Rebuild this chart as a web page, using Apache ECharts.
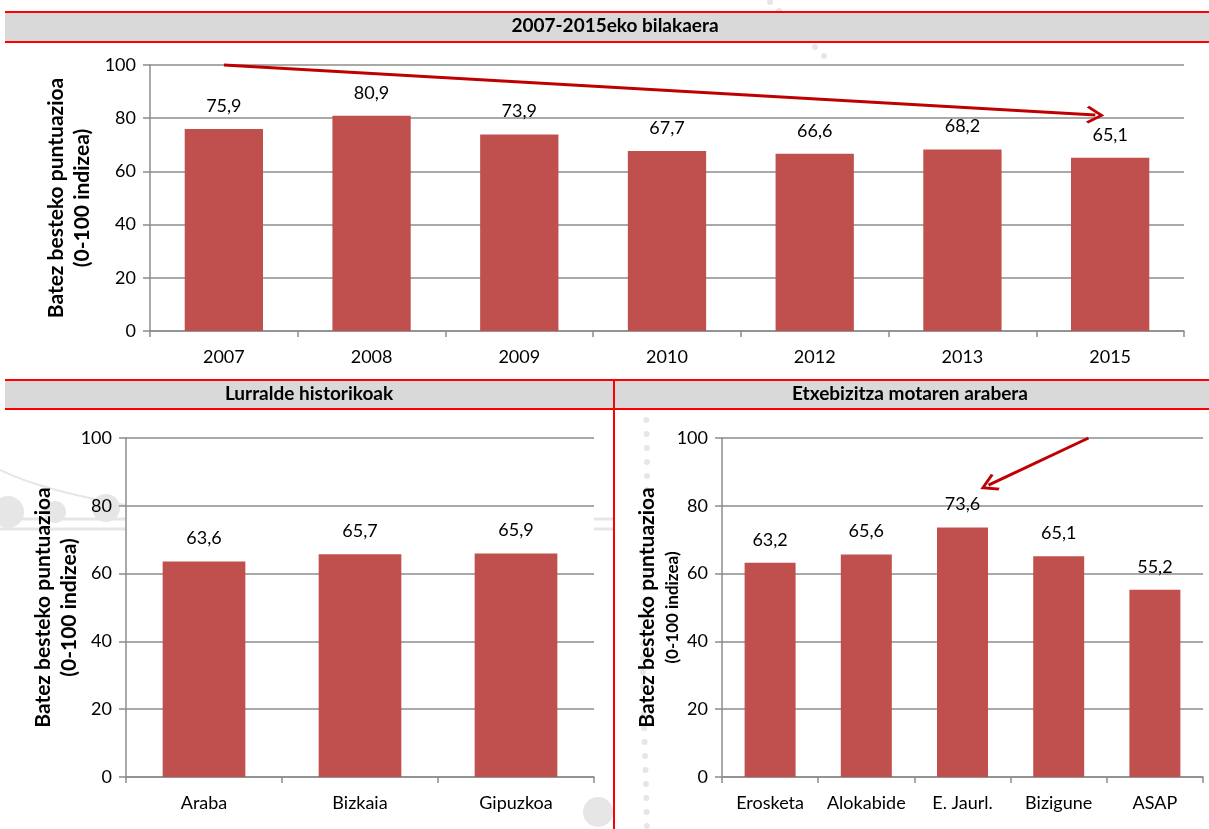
<!DOCTYPE html>
<html>
<head>
<meta charset="utf-8">
<script src="https://cdn.jsdelivr.net/npm/echarts@6/dist/echarts.min.js"></script>
<style>
  html, body { margin: 0; padding: 0; background: #fff; }
  #chart { width: 1209px; height: 829px; }
</style>
</head>
<body>
<div id="chart"></div>
<script>
// Evolution 2007-2015
const years = ['2007', '2008', '2009', '2010', '2012', '2013', '2015'];
const yearScores = [75.9, 80.9, 73.9, 67.7, 66.6, 68.2, 65.1];

// Historical territories
const provinces = ['Araba', 'Bizkaia', 'Gipuzkoa'];
const provinceScores = [63.6, 65.7, 65.9];

// By housing type
const housingTypes = ['Erosketa', 'Alokabide', 'E. Jaurl.', 'Bizigune', 'ASAP'];
const housingScores = [63.2, 65.6, 73.6, 65.1, 55.2];

// Panel titles and axis name
const panelTitles = ['2007-2015eko bilakaera', 'Lurralde historikoak', 'Etxebizitza motaren arabera'];
const yAxisNameLines = ['Batez besteko puntuazioa', '(0-100 indizea)'];
const yMin = 0, yMax = 100, yStep = 20;

// Trend arrows, in [category position, score]
const trendArrowTop = [[0, 100], [5.9, 81.2]];
const trendArrowHousing = [[3.31, 100], [2.27, 86.1]];

const FONT = 'Lato, "Open Sans", sans-serif';
const BAR = '#c0504d';
const AXIS_GREY = '#8c8c8c';
const ARROW = '#c00000';
const FAINT = '#e6e6e6';
const chevron = 'path://M50,0 L100,70 L89,80 L50,25 L11,80 L0,70 Z';

const fmt = v => String(v).replace('.', ',');

function catAxis(grid, cats) {
  return {
    type: 'category', gridIndex: grid, data: cats,
    axisLine: { lineStyle: { color: AXIS_GREY, width: 1.5 } },
    axisTick: { show: true, length: 6, lineStyle: { color: AXIS_GREY, width: 1.5 } },
    axisLabel: { interval: 0, color: '#000', fontFamily: FONT, fontSize: 18, margin: 17 }
  };
}
function valAxis(grid, nameGap, subSize) {
  return {
    type: 'value', gridIndex: grid, min: yMin, max: yMax, interval: yStep,
    name: '{a|' + yAxisNameLines[0] + '}\n{b|' + yAxisNameLines[1] + '}',
    nameLocation: 'middle', nameGap: nameGap, nameRotate: 90, nameMoveOverlap: false,
    nameTextStyle: {
      color: '#000', fontFamily: FONT, fontWeight: 700, fontSize: 21,
      rich: {
        a: { fontFamily: FONT, fontSize: 21, fontWeight: 700, lineHeight: 26, color: '#000' },
        b: { fontFamily: FONT, fontSize: subSize, fontWeight: 700, lineHeight: 26, color: '#000' }
      }
    },
    axisLine: { show: true, onZero: false, lineStyle: { color: AXIS_GREY, width: 1.5 } },
    axisTick: { show: true, length: 7, lineStyle: { color: AXIS_GREY, width: 1.5 } },
    splitLine: { lineStyle: { color: AXIS_GREY, width: 1.5 } },
    axisLabel: { color: '#000', fontFamily: FONT, fontSize: 18, margin: 14 }
  };
}
function hiddenPosAxis(grid, n) {
  return { type: 'value', gridIndex: grid, min: -0.5, max: n - 0.5, show: false,
           axisLine: { onZero: false } };
}
function bars(xi, yi, values) {
  return {
    type: 'bar', xAxisIndex: xi, yAxisIndex: yi, data: values, barWidth: '53%',
    itemStyle: { color: BAR },
    label: { show: true, position: 'top', distance: 14, color: '#000', fontFamily: FONT, fontSize: 18,
             formatter: p => fmt(p.value) }
  };
}
function arrow(xi, yi, pts) {
  return {
    type: 'line', xAxisIndex: xi, yAxisIndex: yi, data: [], silent: true,
    markLine: {
      silent: true, symbol: ['none', chevron], symbolSize: [18, 18],
      lineStyle: { color: ARROW, width: 3, type: 'solid' },
      label: { show: false },
      data: [[{ coord: pts[0] }, { coord: pts[1] }]]
    }
  };
}

// Faint decorative backdrop: a beaded band and dotted trails
const backdrop = [];
[[8, 512, 16], [55, 512, 11], [106, 508, 14], [598, 812, 15]].forEach(([x, y, r]) => {
  backdrop.push({ type: 'circle', shape: { cx: x, cy: y, r: r }, style: { fill: FAINT }, z: -10, silent: true });
});
[[0, 125, 519], [0, 125, 529], [594, 614, 519], [594, 614, 529]].forEach(([x1, x2, y]) => {
  backdrop.push({ type: 'line', shape: { x1: x1, y1: y, x2: x2, y2: y }, style: { stroke: FAINT, lineWidth: 3 }, z: -10, silent: true });
});
for (let y = 420; y < 829; y += 14) {
  backdrop.push({ type: 'circle', shape: { cx: 645 + Math.sin(y / 60) * 2, cy: y, r: 3 }, style: { fill: FAINT }, z: -10, silent: true });
}
for (let i = 0; i < 7; i++) {
  backdrop.push({ type: 'circle', shape: { cx: 770 + i * 9, cy: 2 + i * 9, r: 3 }, style: { fill: FAINT }, z: -10, silent: true });
}
backdrop.push({ type: 'bezierCurve', shape: { x1: 0, y1: 470, x2: 125, y2: 505, cpx1: 40, cpy1: 490 },
                style: { stroke: FAINT, lineWidth: 2, fill: 'none' }, z: -10, silent: true });

const chart = echarts.init(document.getElementById('chart'), null, { renderer: 'canvas' });

const titleStyle = { color: '#000', fontFamily: FONT, fontSize: 19, fontWeight: 'bold' };

chart.setOption({
  animation: false,
  backgroundColor: '#fff',
  graphic: backdrop.concat([
    { type: 'rect', shape: { x: 5, y: 12, width: 1210, height: 30 }, style: { fill: '#d9d9d9' }, z: -1 },
    { type: 'line', shape: { x1: 5, y1: 12, x2: 1209, y2: 12 }, style: { stroke: '#ff0000', lineWidth: 2 } },
    { type: 'line', shape: { x1: 5, y1: 42, x2: 1209, y2: 42 }, style: { stroke: '#ff0000', lineWidth: 2 } },
    { type: 'rect', shape: { x: 5, y: 380, width: 1210, height: 29 }, style: { fill: '#d9d9d9' }, z: -1 },
    { type: 'line', shape: { x1: 5, y1: 380, x2: 1209, y2: 380 }, style: { stroke: '#ff0000', lineWidth: 2 } },
    { type: 'line', shape: { x1: 5, y1: 409, x2: 1209, y2: 409 }, style: { stroke: '#ff0000', lineWidth: 2 } },
    { type: 'line', shape: { x1: 614, y1: 380, x2: 614, y2: 829 }, style: { stroke: '#ff0000', lineWidth: 2 } }
  ]),
  title: [
    { text: panelTitles[0], left: 615, top: 16, textAlign: 'center', textStyle: titleStyle, padding: 0 },
    { text: panelTitles[1], left: 309, top: 384, textAlign: 'center', textStyle: titleStyle, padding: 0 },
    { text: panelTitles[2], left: 910, top: 384, textAlign: 'center', textStyle: titleStyle, padding: 0 }
  ],
  grid: [
    { left: 150, top: 65, width: 1034, height: 266, show: true, backgroundColor: '#fff', borderWidth: 0 },
    { left: 126, top: 438, width: 468, height: 339, show: true, backgroundColor: '#fff', borderWidth: 0 },
    { left: 722, top: 438, width: 481, height: 339, show: true, backgroundColor: '#fff', borderWidth: 0 }
  ],
  xAxis: [
    catAxis(0, years), catAxis(1, provinces), catAxis(2, housingTypes),
    hiddenPosAxis(0, years.length), hiddenPosAxis(2, housingTypes.length)
  ],
  yAxis: [valAxis(0, 55, 21), valAxis(1, 44, 21), valAxis(2, 36, 17)],
  series: [
    bars(0, 0, yearScores),
    bars(1, 1, provinceScores),
    bars(2, 2, housingScores),
    arrow(3, 0, trendArrowTop),
    arrow(4, 2, trendArrowHousing)
  ]
});
</script>
</body>
</html>
